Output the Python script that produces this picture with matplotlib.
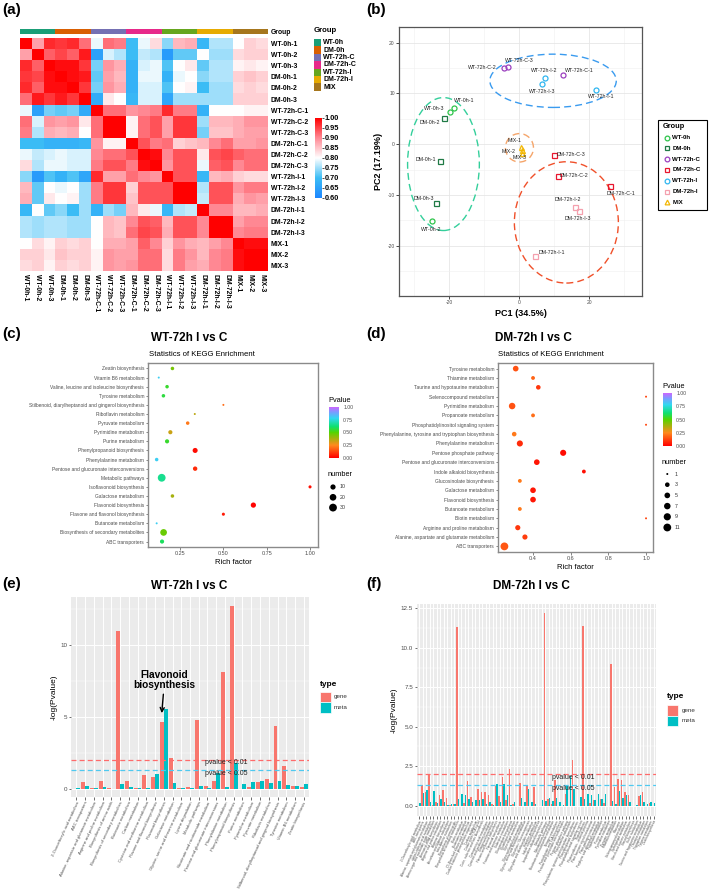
import numpy as np
import matplotlib
matplotlib.use('Agg')
import matplotlib.pyplot as plt
from matplotlib.colors import LinearSegmentedColormap, ListedColormap, Normalize
from matplotlib.patches import Ellipse, Rectangle
from matplotlib.cm import ScalarMappable

plt.rcParams['font.family'] = ['Liberation Sans', 'DejaVu Sans']
plt.rcParams['axes.unicode_minus'] = False

# ---------------------------------------------------------------- data
samples = ['WT-0h-1', 'WT-0h-2', 'WT-0h-3', 'DM-0h-1', 'DM-0h-2', 'DM-0h-3',
           'WT-72h-C-1', 'WT-72h-C-2', 'WT-72h-C-3', 'DM-72h-C-1', 'DM-72h-C-2', 'DM-72h-C-3',
           'WT-72h-I-1', 'WT-72h-I-2', 'WT-72h-I-3', 'DM-72h-I-1', 'DM-72h-I-2', 'DM-72h-I-3',
           'MIX-1', 'MIX-2', 'MIX-3']
groups = ['WT-0h', 'DM-0h', 'WT-72h-C', 'DM-72h-C', 'WT-72h-I', 'DM-72h-I', 'MIX']

corr = [
    [1.00, 0.88, 0.97, 0.96, 0.97, 0.92, 0.79, 0.92, 0.91, 0.70, 0.79, 0.83, 0.74, 0.86, 0.87, 0.69, 0.76, 0.76, 0.80, 0.84, 0.83],
    [0.88, 1.00, 0.93, 0.95, 0.93, 0.98, 0.65, 0.78, 0.76, 0.70, 0.77, 0.76, 0.64, 0.72, 0.72, 0.80, 0.75, 0.75, 0.83, 0.84, 0.84],
    [0.97, 0.93, 1.00, 0.99, 0.99, 0.96, 0.73, 0.89, 0.87, 0.68, 0.78, 0.79, 0.71, 0.80, 0.82, 0.72, 0.76, 0.76, 0.81, 0.82, 0.81],
    [0.96, 0.95, 0.99, 1.00, 0.99, 0.98, 0.72, 0.88, 0.86, 0.68, 0.79, 0.79, 0.68, 0.79, 0.80, 0.74, 0.76, 0.76, 0.84, 0.85, 0.84],
    [0.97, 0.93, 0.99, 0.99, 1.00, 0.96, 0.73, 0.89, 0.87, 0.68, 0.78, 0.78, 0.71, 0.80, 0.81, 0.70, 0.75, 0.75, 0.83, 0.84, 0.83],
    [0.92, 0.98, 0.96, 0.98, 0.96, 1.00, 0.67, 0.82, 0.80, 0.69, 0.78, 0.78, 0.66, 0.75, 0.75, 0.75, 0.75, 0.75, 0.84, 0.84, 0.84],
    [0.79, 0.65, 0.73, 0.72, 0.73, 0.67, 1.00, 0.92, 0.92, 0.89, 0.90, 0.91, 0.97, 0.91, 0.91, 0.68, 0.80, 0.80, 0.80, 0.81, 0.81],
    [0.92, 0.78, 0.89, 0.88, 0.89, 0.82, 0.92, 1.00, 1.00, 0.81, 0.92, 0.94, 0.88, 0.96, 0.96, 0.75, 0.86, 0.86, 0.87, 0.89, 0.89],
    [0.91, 0.76, 0.87, 0.86, 0.87, 0.80, 0.92, 1.00, 1.00, 0.81, 0.92, 0.94, 0.88, 0.96, 0.96, 0.73, 0.85, 0.85, 0.87, 0.88, 0.88],
    [0.70, 0.70, 0.68, 0.68, 0.68, 0.69, 0.89, 0.81, 0.81, 1.00, 0.94, 0.91, 0.92, 0.84, 0.85, 0.86, 0.90, 0.92, 0.88, 0.88, 0.89],
    [0.79, 0.77, 0.78, 0.79, 0.78, 0.78, 0.90, 0.92, 0.92, 0.94, 1.00, 0.99, 0.90, 0.94, 0.94, 0.82, 0.94, 0.95, 0.93, 0.92, 0.92],
    [0.83, 0.76, 0.79, 0.79, 0.78, 0.78, 0.91, 0.94, 0.94, 0.91, 0.99, 1.00, 0.89, 0.94, 0.94, 0.79, 0.93, 0.94, 0.90, 0.92, 0.92],
    [0.74, 0.64, 0.71, 0.68, 0.71, 0.66, 0.97, 0.88, 0.88, 0.92, 0.90, 0.89, 1.00, 0.94, 0.94, 0.69, 0.86, 0.87, 0.84, 0.83, 0.83],
    [0.86, 0.72, 0.80, 0.79, 0.80, 0.75, 0.91, 0.96, 0.96, 0.84, 0.94, 0.94, 0.94, 1.00, 1.00, 0.76, 0.94, 0.94, 0.89, 0.91, 0.91],
    [0.87, 0.72, 0.82, 0.80, 0.81, 0.75, 0.91, 0.96, 0.96, 0.85, 0.94, 0.94, 0.94, 1.00, 1.00, 0.77, 0.94, 0.94, 0.87, 0.89, 0.88],
    [0.69, 0.80, 0.72, 0.74, 0.70, 0.75, 0.68, 0.75, 0.73, 0.86, 0.82, 0.79, 0.69, 0.76, 0.77, 1.00, 0.90, 0.90, 0.86, 0.86, 0.87],
    [0.76, 0.75, 0.76, 0.76, 0.75, 0.75, 0.80, 0.86, 0.85, 0.90, 0.94, 0.93, 0.86, 0.94, 0.94, 0.90, 1.00, 1.00, 0.88, 0.90, 0.90],
    [0.76, 0.75, 0.76, 0.76, 0.75, 0.75, 0.80, 0.86, 0.85, 0.92, 0.95, 0.94, 0.87, 0.94, 0.94, 0.90, 1.00, 1.00, 0.90, 0.91, 0.91],
    [0.80, 0.83, 0.81, 0.84, 0.83, 0.84, 0.80, 0.87, 0.87, 0.88, 0.93, 0.90, 0.84, 0.89, 0.87, 0.86, 0.88, 0.90, 1.00, 0.99, 0.99],
    [0.84, 0.84, 0.82, 0.85, 0.84, 0.84, 0.81, 0.89, 0.88, 0.88, 0.92, 0.92, 0.83, 0.91, 0.89, 0.86, 0.90, 0.91, 0.99, 1.00, 1.00],
    [0.83, 0.84, 0.81, 0.84, 0.83, 0.84, 0.81, 0.89, 0.88, 0.89, 0.92, 0.92, 0.83, 0.91, 0.88, 0.87, 0.90, 0.91, 0.99, 1.00, 1.00],
]

# PCA scores (same order as samples)
pc1 = [-18.6, -25.0, -19.9, -22.8, -21.5, -23.8,
       12.3, -4.5, -3.2, 26.0, 11.1, 9.8,
       21.9, 7.3, 6.4, 4.4, 15.8, 17.1,
       0.4, 0.7, 0.8]
pc2 = [7.1, -15.2, 6.3, -3.3, 5.1, -11.5,
       13.6, 15.0, 15.3, -8.3, -6.2, -2.2,
       10.7, 13.1, 11.9, -22.1, -12.4, -13.1,
       -0.5, -1.2, -1.8]

# KEGG enrichment, WT-72h I vs C (top to bottom)
terms_c = ['Zeatin biosynthesis', 'Vitamin B6 metabolism', 'Valine, leucine and isoleucine biosynthesis',
           'Tyrosine metabolism', 'Stilbenoid, diarylheptanoid and gingerol biosynthesis',
           'Riboflavin metabolism', 'Pyruvate metabolism', 'Pyrimidine metabolism', 'Purine metabolism',
           'Phenylpropanoid biosynthesis', 'Phenylalanine metabolism',
           'Pentose and glucuronate interconversions', 'Metabolic pathways', 'Isoflavonoid biosynthesis',
           'Galactose metabolism', 'Flavonoid biosynthesis', 'Flavone and flavonol biosynthesis',
           'Butanoate metabolism', 'Biosynthesis of secondary metabolites', 'ABC transporters']
rich_c = [0.206, 0.127, 0.175, 0.154, 0.50, 0.335, 0.294, 0.194, 0.175, 0.337,
          0.115, 0.337, 0.144, 1.00, 0.206, 0.673, 0.50, 0.115, 0.155, 0.146]
pval_c = [0.45, 0.80, 0.55, 0.57, 0.20, 0.35, 0.22, 0.33, 0.55, 0.02,
          0.80, 0.08, 0.66, 0.03, 0.38, 0.01, 0.05, 0.80, 0.47, 0.60]
num_c = [3, 1, 3, 3, 1, 1, 3, 5, 5, 9, 3, 6, 30, 2, 3, 10, 2, 1, 20, 5]

# KEGG enrichment, DM-72h I vs C (top to bottom)
terms_d = ['Tyrosine metabolism', 'Thiamine metabolism', 'Taurine and hypotaurine metabolism',
           'Selenocompound metabolism', 'Pyrimidine metabolism', 'Propanoate metabolism',
           'Phosphatidylinositol signaling system', 'Phenylalanine, tyrosine and tryptophan biosynthesis',
           'Phenylalanine metabolism', 'Pentose phosphate pathway', 'Pentose and glucuronate interconversions',
           'Indole alkaloid biosynthesis', 'Glucosinolate biosynthesis', 'Galactose metabolism',
           'Flavonoid biosynthesis', 'Butanoate metabolism', 'Biotin metabolism',
           'Arginine and proline metabolism', 'Alanine, aspartate and glutamate metabolism', 'ABC transporters']
rich_d = [0.308, 0.40, 0.428, 1.00, 0.289, 0.40, 1.00, 0.30, 0.33, 0.56,
          0.42, 0.67, 0.33, 0.40, 0.40, 0.33, 1.00, 0.319, 0.357, 0.248]
pval_d = [0.15, 0.18, 0.10, 0.13, 0.15, 0.20, 0.13, 0.22, 0.08, 0.02,
          0.04, 0.03, 0.22, 0.04, 0.04, 0.22, 0.13, 0.10, 0.11, 0.16]
num_d = [5, 2, 3, 1, 7, 2, 1, 3, 6, 6, 5, 2, 2, 5, 5, 2, 1, 4, 4, 11]

# -log(P) bars, WT-72h I vs C
terms_e = ['2-Oxocarboxylic acid metabolism', 'ABC transporters', 'Alanine, aspartate and glutamate metabolism',
           'Arginine and proline metabolism', 'Biosynthesis of amino acids',
           'Biosynthesis of secondary metabolites', 'Butanoate metabolism', 'Carbon metabolism',
           'Cysteine and methionine metabolism', 'Flavone and flavonol biosynthesis', 'Flavonoid biosynthesis',
           'Galactose metabolism', 'Glycine, serine and threonine metabolism', 'Lysine degradation',
           'Metabolic pathways', 'Nicotinate and nicotinamide metabolism',
           'Pentose and glucuronate interconversions', 'Phenylalanine metabolism',
           'Phenylpropanoid biosynthesis', 'Purine metabolism', 'Pyrimidine metabolism', 'Pyruvate metabolism',
           'Riboflavin metabolism', 'Stilbenoid, diarylheptanoid and gingerol biosynthesis',
           'Tyrosine metabolism', 'Vitamin B6 metabolism', 'Zeatin biosynthesis']
gene_e = [0.0, 0.47, 0.07, 0.5, 0.02, 10.97, 0.5, 0.03, 0.93, 0.78, 4.6, 2.1, 0.03, 0.1,
          4.75, 0.15, 0.55, 8.1, 12.7, 0.0, 0.1, 0.45, 0.7, 4.35, 1.6, 0.2, 0.12]
meta_e = [0.05, 0.2, 0.05, 0.1, 0.0, 0.33, 0.12, 0.02, 0.03, 1.0, 5.5, 0.42, 0.04, 0.04,
          0.18, 0.05, 1.1, 0.1, 1.75, 0.3, 0.45, 0.55, 0.42, 0.55, 0.22, 0.15, 0.35]

# -log(P) bars, DM-72h I vs C
terms_f = ['2-Oxocarboxylic acid metabolism', 'ABC transporters', 'Alanine, aspartate and glutamate metabolism',
           'alpha-Linolenic acid metabolism', 'Amino sugar and nucleotide sugar metabolism',
           'Aminoacyl-tRNA biosynthesis', 'Arginine and proline metabolism', 'Arginine biosynthesis',
           'Ascorbate and aldarate metabolism', 'beta-Alanine metabolism', 'Biosynthesis of amino acids',
           'Biosynthesis of secondary metabolites', 'Biotin metabolism', 'Butanoate metabolism',
           'C5-Branched dibasic acid metabolism', 'Carbon fixation in photosynthetic organisms',
           'Carbon metabolism', 'Citrate cycle (TCA cycle)', 'Cutin, suberine and wax biosynthesis',
           'Cyanoamino acid metabolism', 'Cysteine and methionine metabolism', 'Diterpenoid biosynthesis',
           'Flavone and flavonol biosynthesis', 'Flavonoid biosynthesis', 'Fructose and mannose metabolism',
           'Galactose metabolism', 'Glucosinolate biosynthesis', 'Glutathione metabolism',
           'Glycerolipid metabolism', 'Glycerophospholipid metabolism',
           'Glycine, serine and threonine metabolism', 'Glycolysis / Gluconeogenesis',
           'Glyoxylate and dicarboxylate metabolism', 'Histidine metabolism', 'Indole alkaloid biosynthesis',
           'Isoquinoline alkaloid biosynthesis', 'Metabolic pathways', 'Monobactam biosynthesis',
           'Nicotinate and nicotinamide metabolism', 'Nitrogen metabolism', 'Pantothenate and CoA biosynthesis',
           'Pentose and glucuronate interconversions', 'Pentose phosphate pathway', 'Phenylalanine metabolism',
           'Phenylalanine, tyrosine and tryptophan biosynthesis', 'Phenylpropanoid biosynthesis',
           'Phosphatidylinositol signaling system', 'Photosynthesis', 'Photosynthesis - antenna proteins',
           'Plant hormone signal transduction', 'Plant-pathogen interaction', 'Porphyrin and chlorophyll metabolism',
           'Propanoate metabolism', 'Purine metabolism', 'Pyrimidine metabolism', 'Pyruvate metabolism',
           'Riboflavin metabolism', 'Ribosome', 'Selenocompound metabolism', 'Sphingolipid metabolism',
           'Starch and sucrose metabolism', 'Steroid biosynthesis', 'Sulfur metabolism',
           'Taurine and hypotaurine metabolism', 'Thiamine metabolism', 'Tryptophan metabolism',
           'Tyrosine metabolism', 'Zeatin biosynthesis']
gene_f = [0.0, 1.3, 0.9, 2.0, 0.05, 0.25, 0.7, 1.0, 0.5, 0.05,
          0.1, 11.3, 0.0, 0.15, 1.55, 0.55, 0.0, 1.05, 0.85, 0.85,
          0.7, 0.1, 1.25, 0.6, 1.85, 0.35, 2.35, 0.1, 0.0, 1.45,
          0.0, 1.25, 0.0, 1.2, 0.0, 0.0, 12.2, 0.4, 0.1, 1.6,
          0.0, 0.0, 0.75, 0.0, 2.9, 0.0, 0.0, 11.4, 0.0, 0.2,
          0.35, 0.0, 0.4, 0.2, 0.0, 9.0, 1.2, 1.7, 1.65, 0.9,
          0.65, 0.0, 0.0, 0.6, 0.85, 0.0, 0.15, 0.0]
meta_f = [0.2, 0.8, 1.0, 0.25, 0.95, 0.15, 0.45, 0.25, 0.05, 0.1,
          0.1, 0.45, 0.72, 0.65, 0.4, 0.25, 0.35, 0.35, 0.45, 0.1,
          0.25, 0.05, 1.4, 0.25, 1.4, 0.65, 0.05, 0.25, 0.0, 0.5,
          0.25, 1.05, 0.25, 0.1, 0.0, 0.35, 0.3, 0.5, 0.3, 0.5,
          0.25, 0.02, 1.3, 1.9, 1.05, 0.0, 0.55, 0.45, 0.75, 0.65,
          0.35, 0.75, 0.4, 0.75, 0.0, 0.3, 0.1, 0.95, 0.5, 0.65,
          0.25, 0.0, 0.05, 0.7, 0.25, 0.1, 0.25, 0.2]

# ---------------------------------------------------------------- styles
group_colors_a = ['#1B9E77', '#D95F02', '#7570B3', '#E7298A', '#66A61E', '#E6AB02', '#A6761D']
pca_colors = ['#2DC44A', '#1F7A45', '#9B3FBF', '#E8162E', '#2FB6F0', '#F4A0AE', '#F2B705']
pca_markers = ['o', 's', 'o', 's', 'o', 's', '^']
GENE_C, META_C = '#F8766D', '#00BFC4'
hm_cmap = LinearSegmentedColormap.from_list(
    'hm', [(0, '#1C86FF'), (0.25, '#3CBDF5'), (0.5, '#FFFFFF'), (0.75, '#FF8A95'), (1.0, '#FF0000')])
pv_cmap = LinearSegmentedColormap.from_list(
    'pv', [(0, '#FF0000'), (0.25, '#FF8A1E'), (0.5, '#55D400'), (0.62, '#10E070'),
           (0.78, '#30D8F0'), (0.9, '#7A9CFF'), (1.0, '#CC66FF')])

W, H = 709, 890
fig = plt.figure(figsize=(W / 100, H / 100), dpi=100)


def ax_px(x0, y0, x1, y1):
    return fig.add_axes([x0 / W, 1 - y1 / H, (x1 - x0) / W, (y1 - y0) / H])


ov = fig.add_axes([0, 0, 1, 1])
ov.set_xlim(0, W)
ov.set_ylim(H, 0)
ov.axis('off')
ov.set_zorder(5)

for lab, x, y in [('(a)', 2, 3), ('(b)', 366, 3), ('(c)', 2, 327), ('(d)', 366, 327),
                  ('(e)', 2, 577), ('(f)', 366, 577)]:
    ov.text(x, y, lab, fontsize=11, fontweight='bold', va='top', ha='left')

# ---------------------------------------------------------------- (a) heatmap
axh = ax_px(20, 38, 268, 271)
im = axh.imshow(np.array(corr), cmap=hm_cmap, vmin=0.6, vmax=1.0, aspect='auto',
                interpolation='nearest')
axh.set_xticks(range(len(samples)))
axh.set_xticklabels(samples, rotation=270, fontsize=4.9, fontweight='bold')
axh.set_yticks(range(len(samples)))
axh.set_yticklabels(samples, fontsize=4.9, fontweight='bold')
axh.yaxis.tick_right()
axh.tick_params(length=0, pad=2)
for sp in axh.spines.values():
    sp.set_visible(False)

gidx = [groups.index(s.rsplit('-', 1)[0]) for s in samples]
axg = ax_px(20, 29, 268, 34.5)
axg.imshow([gidx], cmap=ListedColormap(group_colors_a), vmin=-0.5, vmax=len(groups) - 0.5,
           aspect='auto', interpolation='nearest')
axg.axis('off')
ov.text(271, 32, 'Group', fontsize=4.9, fontweight='bold', va='center')

ov.text(314, 34, 'Group', fontsize=5.6, fontweight='bold', va='bottom')
for k, (g, c) in enumerate(zip(groups, group_colors_a)):
    y0 = 39 + k * 7.38
    ov.add_patch(Rectangle((314, y0), 6.7, 7.38, facecolor=c, edgecolor='none'))
    ov.text(323, y0 + 3.8, g, fontsize=5.0, fontweight='bold', va='center')

cax = ax_px(315, 118, 321.5, 198)
cb = fig.colorbar(im, cax=cax, ticks=[0.6, 0.65, 0.7, 0.75, 0.8, 0.85, 0.9, 0.95, 1.0])
cb.outline.set_visible(False)
cb.ax.set_yticklabels(['%.2f' % t for t in [0.6, 0.65, 0.7, 0.75, 0.8, 0.85, 0.9, 0.95, 1.0]],
                      fontsize=5.3, fontweight='bold')
cb.ax.tick_params(length=1.5, width=0.5, pad=1)

# ---------------------------------------------------------------- (b) PCA
axp = ax_px(399, 27, 642, 296)
axp.set_xlim(-34.4, 35.0)
axp.set_ylim(-29.9, 23.1)
axp.set_xticks([-20, 0, 20])
axp.set_xticks([-30, -10, 10, 30], minor=True)
axp.set_yticks([-20, -10, 0, 10, 20])
axp.set_yticks([-25, -15, -5, 5, 15], minor=True)
axp.set_xticklabels(['-20', '0', '20'])
axp.set_yticklabels(['-20', '-10', '0', '10', '20'])
axp.grid(which='major', color='#E6E6E6', lw=0.6)
axp.grid(which='minor', color='#F0F0F0', lw=0.4)
axp.set_axisbelow(True)
axp.tick_params(which='major', length=2, width=0.5, labelsize=3.6, labelcolor='#4D4D4D', pad=1)
axp.tick_params(which='minor', length=0)
for sp in axp.spines.values():
    sp.set_color('#555555')
    sp.set_linewidth(0.9)

ELLIPSES = [((-21.7, -3.9), 20.5, 26.2, '#34CF9B'),
            ((9.6, 12.5), 36.1, 10.5, '#3A9BEF'),
            ((0.0, -0.7), 8.0, 5.6, '#F5A56A'),
            ((13.4, -15.4), 29.7, 23.9, '#F0502A')]
for (cx, cy), ew, eh, ec in ELLIPSES:
    axp.add_patch(Ellipse((cx, cy), ew, eh, fill=False, edgecolor=ec, lw=1.0, ls=(0, (5, 3))))

lab_dx = [2.8, -0.2, -4.3, -4.0, -4.1, -3.6,
          4.8, -6.2, 3.3, 3.0, 4.5, 4.9,
          1.5, -0.3, 0.1, 4.8, -2.1, -0.3,
          -1.7, -3.8, -0.7]
lab_dy = [1.5, -1.5, 0.8, 0.3, -0.85, 0.85,
          0.85, 0.2, 1.25, -1.5, 0.05, 0.1,
          -1.25, 1.4, -1.45, 0.8, 1.45, -1.45,
          1.2, -0.25, -0.8]
for i, s in enumerate(samples):
    g = gidx[i]
    axp.plot(pc1[i], pc2[i], marker=pca_markers[g], mfc='none', mec=pca_colors[g], ms=3.6, mew=0.9)
    axp.text(pc1[i] + lab_dx[i], pc2[i] + lab_dy[i], s, fontsize=3.8, color='#222222',
             ha='center', va='center')
axp.set_xlabel('PC1 (34.5%)', fontsize=6.5, fontweight='bold', labelpad=3)
axp.set_ylabel('PC2 (17.19%)', fontsize=6.5, fontweight='bold', labelpad=3)

ov.add_patch(Rectangle((658, 120), 49, 90, facecolor='white', edgecolor='black', lw=0.8))
ov.text(663, 127, 'Group', fontsize=5.3, fontweight='bold', va='center')
for k, g in enumerate(groups):
    yy = 137.5 + k * 10.8
    ov.plot(667, yy, marker=pca_markers[k], mfc='none', mec=pca_colors[k], ms=3.4, mew=0.9)
    ov.text(672.5, yy, g, fontsize=4.4, fontweight='bold', va='center')

# ---------------------------------------------------------------- (c)/(d) KEGG dot plots


def dot_size(n, nmin, nmax, dmin=2.0, dmax=7.8):
    frac = (np.asarray(n, dtype=float) - nmin) / (nmax - nmin)
    d_px = dmin + np.sqrt(frac) * (dmax - dmin)
    return (d_px * 0.72) ** 2


def kegg_panel(box, xlim, xticks, xticklabels, terms, rich, pval, num, nmin, nmax):
    ax = ax_px(*box)
    yy = np.arange(len(terms))[::-1]
    ax.scatter(rich, yy, s=dot_size(num, nmin, nmax), c=pval, cmap=pv_cmap, vmin=0, vmax=1,
               edgecolors='none', zorder=3)
    ax.set_xlim(*xlim)
    ax.set_ylim(-0.6, len(terms) - 0.4)
    ax.set_yticks(yy)
    ax.set_yticklabels(terms, fontsize=3.5, color='#4D4D4D')
    ax.set_xticks(xticks)
    ax.set_xticklabels(xticklabels, fontsize=4.0, color='#4D4D4D')
    ax.tick_params(length=1.8, width=0.5, color='#555555', pad=1)
    for sp in ax.spines.values():
        sp.set_color('#8A8A8A')
        sp.set_linewidth(1.0)
    ax.set_xlabel('Rich factor', fontsize=5.5, labelpad=2)
    return ax


kegg_panel((148, 363, 318, 547), (0.065, 1.046), [0.25, 0.5, 0.75, 1.0],
           ['0.25', '0.50', '0.75', '1.00'], terms_c, rich_c, pval_c, num_c, 1, 30)
kegg_panel((498, 363, 653, 552), (0.214, 1.037), [0.4, 0.6, 0.8, 1.0],
           ['0.4', '0.6', '0.8', '1.0'], terms_d, rich_d, pval_d, num_d, 1, 11)

ov.text(189, 338, 'WT-72h I vs C', fontsize=8.5, fontweight='bold', ha='center', va='center')
ov.text(533, 338, 'DM-72h I vs C', fontsize=8.5, fontweight='bold', ha='center', va='center')
ov.text(149, 355, 'Statistics of KEGG Enrichment', fontsize=5.6, ha='left', va='center')
ov.text(498, 355, 'Statistics of KEGG Enrichment', fontsize=5.6, ha='left', va='center')

pv_ticks = [0, 0.25, 0.5, 0.75, 1.0]
for (tx, ty, cbox) in [(328, 400, (329, 407, 339, 458)), (662, 386, (663, 393, 672, 446))]:
    ov.text(tx, ty, 'Pvalue', fontsize=5.3, va='center')
    cax2 = ax_px(*cbox)
    cb2 = fig.colorbar(ScalarMappable(Normalize(0, 1), pv_cmap), cax=cax2, ticks=pv_ticks)
    cb2.outline.set_visible(False)
    cb2.ax.set_yticklabels(['%.2f' % t for t in pv_ticks], fontsize=3.7, color='#4D4D4D')
    cb2.ax.tick_params(length=1.5, width=0.5, color='white', pad=1.5)

ov.text(328, 475, 'number', fontsize=5.3, va='center')
for k, v in enumerate([10, 20, 30]):
    yy = 487 + k * 10.3
    ov.scatter([333], [yy], s=dot_size([v], 1, 30), c='black', edgecolors='none')
    ov.text(340, yy, str(v), fontsize=3.8, va='center', color='#333333')
ov.text(662, 463, 'number', fontsize=5.3, va='center')
for k, v in enumerate([1, 3, 5, 7, 9, 11]):
    yy = 474 + k * 10.7
    ov.scatter([667.3], [yy], s=dot_size([v], 1, 11), c='black', edgecolors='none')
    ov.text(675, yy, str(v), fontsize=3.8, va='center', color='#333333')

# ---------------------------------------------------------------- (e)/(f) bars


def bar_panel(box, ylim, yticks, yticklabels, minor, terms, gene, meta, xlabsize):
    ax = ax_px(*box)
    x = np.arange(len(terms))
    ax.set_facecolor('#EBEBEB')
    ax.bar(x - 0.225, gene, width=0.45, color=GENE_C, zorder=3)
    ax.bar(x + 0.225, meta, width=0.45, color=META_C, zorder=3)
    ax.set_xlim(-0.6, len(terms) - 0.4)
    ax.set_ylim(*ylim)
    ax.set_yticks(yticks)
    ax.set_yticklabels(yticklabels, fontsize=4.5, color='#4D4D4D')
    ax.set_yticks(minor, minor=True)
    ax.set_xticks(x)
    ax.set_xticklabels(terms, rotation=65, ha='right', va='top', rotation_mode='anchor',
                       fontsize=xlabsize, color='#4D4D4D')
    ax.grid(which='major', color='white', lw=0.7, zorder=0)
    ax.grid(which='minor', axis='y', color='white', lw=0.35, zorder=0)
    ax.set_axisbelow(True)
    ax.tick_params(which='major', length=1.8, width=0.5, color='#333333', pad=1)
    ax.tick_params(which='minor', length=0)
    for sp in ax.spines.values():
        sp.set_visible(False)
    ax.axhline(2.0, color='#FF6B6B', ls=(0, (4, 2.5)), lw=0.9, zorder=4)
    ax.axhline(1.301, color='#4FC9F0', ls=(0, (4, 2.5)), lw=0.9, zorder=4)
    ax.set_ylabel('-log(Pvalue)', fontsize=6, labelpad=2)
    return ax


axe = bar_panel((71, 597, 309, 797), (-0.58, 13.3), [0, 5, 10], ['0', '5', '10'], [2.5, 7.5, 12.5],
                terms_e, gene_e, meta_e, 3.0)
axe.text(14.7, 1.8, 'pvalue < 0.01', fontsize=5.0, va='center', ha='left', color='#222222', zorder=5)
axe.text(14.7, 1.02, 'pvalue < 0.05', fontsize=5.0, va='center', ha='left', color='#222222', zorder=5)
axe.annotate('Flavonoid\nbiosynthesis', xy=(9.77, 5.24), xytext=(10.1, 7.55),
             fontsize=7.3, fontweight='bold', ha='center', va='center', linespacing=1.05,
             arrowprops=dict(arrowstyle='->', lw=1.0, color='black', shrinkA=1, shrinkB=0), zorder=6)

axf = bar_panel((417, 604, 656, 816), (-0.65, 12.77), [0, 2.5, 5, 7.5, 10, 12.5],
                ['0.0', '2.5', '5.0', '7.5', '10.0', '12.5'], [1.25, 3.75, 6.25, 8.75, 11.25],
                terms_f, gene_f, meta_f, 2.2)
axf.text(37.9, 1.8, 'pvalue < 0.01', fontsize=5.0, va='center', ha='left', color='#222222', zorder=5)
axf.text(37.9, 1.08, 'pvalue < 0.05', fontsize=5.0, va='center', ha='left', color='#222222', zorder=5)

ov.text(189, 586, 'WT-72h I vs C', fontsize=8.5, fontweight='bold', ha='center', va='center')
ov.text(531, 586, 'DM-72h I vs C', fontsize=8.5, fontweight='bold', ha='center', va='center')

for (tx, ty, bx, by) in [(320, 684, 320, 691.5), (667, 697, 667.3, 705)]:
    ov.text(tx, ty, 'type', fontsize=6, fontweight='bold', va='center')
    ov.add_patch(Rectangle((bx, by), 11, 10.5, facecolor=GENE_C, edgecolor='white', lw=0.5))
    ov.add_patch(Rectangle((bx, by + 10.5), 11, 10.5, facecolor=META_C, edgecolor='white', lw=0.5))
    ov.text(bx + 14, by + 5.2, 'gene', fontsize=4.5, va='center', color='#333333')
    ov.text(bx + 14, by + 15.7, 'meta', fontsize=4.5, va='center', color='#333333')

fig.savefig('out.png', dpi=100)
